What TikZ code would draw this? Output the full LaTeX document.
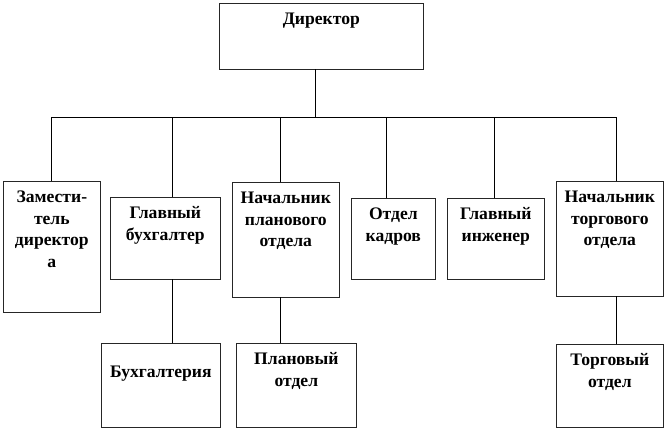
\documentclass[tikz,border=0pt]{standalone}
\usepackage{fontspec}
\setmainfont{Liberation Serif}
\tikzset{
  box/.style={draw=black!85, line width=0.7pt, anchor=north west, inner sep=0pt},
  boxtext/.style={anchor=north, inner sep=0pt, align=center, yshift=-9.5pt,
    font=\bfseries\fontsize{17.6}{21.8}\selectfont},
  link/.style={line width=0.8pt}
}
\begin{document}
\begin{tikzpicture}[x=1pt, y=-1pt, line cap=rect]
\useasboundingbox (0,0) rectangle (667,429);
%\draw[help lines, step=50] (0,0) grid (667,429);

% top
\node [box, minimum width=204pt, minimum height=66pt,
  label={[boxtext]north:Директор}] (dir) at (219,3) {};

% bus and drops
\coordinate (bd) at (315,117);
\coordinate (b1) at (51,117);
\coordinate (b2) at (172,117);
\coordinate (b3) at (280,117);
\coordinate (b4) at (386,117);
\coordinate (b5) at (494,117);
\coordinate (b6) at (616,117);

% second level
\node [box, minimum width=97pt, minimum height=131pt,
  label={[boxtext]north:Замести-\\тель\\директор\\а}] (zam) at (3,181) {};
\node [box, minimum width=110pt, minimum height=82pt,
  label={[boxtext]north:Главный\\бухгалтер}] (gbuh) at (110,197) {};
\node [box, minimum width=107pt, minimum height=115pt,
  label={[boxtext]north:Начальник\\планового\\отдела}] (npl) at (232,182) {};
\node [box, minimum width=84pt, minimum height=81pt,
  label={[boxtext]north:Отдел\\кадров}] (kadr) at (351,198) {};
\node [box, minimum width=97pt, minimum height=81pt,
  label={[boxtext]north:Главный\\инженер}] (ging) at (447,198) {};
\node [box, minimum width=107pt, minimum height=115pt,
  label={[boxtext]north:Начальник\\торгового\\отдела}] (ntorg) at (556,181) {};

% third level
\node [box, minimum width=119pt, minimum height=84pt,
  label={[boxtext, yshift=-13pt]north:Бухгалтерия}] (buh) at (101,343) {};
\node [box, minimum width=120pt, minimum height=84pt,
  label={[boxtext]north:Плановый\\отдел}] (plan) at (236,343) {};
\node [box, minimum width=107pt, minimum height=83pt,
  label={[boxtext]north:Торговый\\отдел}] (torg) at (556,344) {};

% links
\draw [link] (dir.south -| bd) -- (bd);
\draw [link] (b1) -- (b6);
\foreach \b/\n in {b1/zam, b2/gbuh, b3/npl, b4/kadr, b5/ging, b6/ntorg}
  \draw [link] (\b) -- (\b |- \n.north);
\draw [link] (gbuh.south -| b2) -- (buh.north -| b2);
\draw [link] (npl.south -| b3) -- (plan.north -| b3);
\draw [link] (ntorg.south -| b6) -- (torg.north -| b6);

\end{tikzpicture}
\end{document}
